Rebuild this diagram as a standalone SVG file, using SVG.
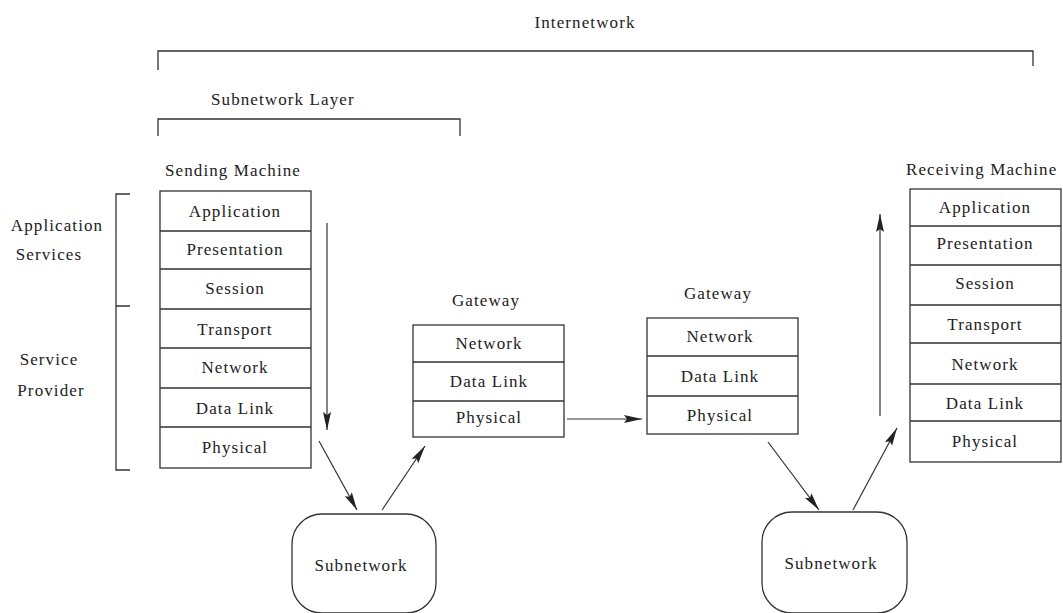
<svg xmlns="http://www.w3.org/2000/svg" width="1063" height="613" viewBox="0 0 1063 613">
<style>
text{font-family:"Liberation Serif","DejaVu Serif","Noto Serif",serif;font-size:17px;fill:#222;letter-spacing:1.1px}
.c{text-anchor:middle}
.b{fill:#fff;stroke:#333;stroke-width:1.3}
.l{fill:none;stroke:#333;stroke-width:1.3}
.a{fill:none;stroke:#333;stroke-width:1.2}
</style>
<defs>
<marker id="ah" viewBox="0 0 18 10" refX="18" refY="5" markerWidth="18" markerHeight="10" markerUnits="userSpaceOnUse" orient="auto">
<path d="M0,1 L18,5 L0,9 L3,5 z" fill="#222"/>
</marker>
</defs>
<rect width="1063" height="613" fill="#fff"/>

<g id="internetwork">
<text class="c" x="585" y="28" font-family="Liberation Serif, DejaVu Serif, serif">Internetwork</text>
<path class="l" d="M158,70 V51 H1033 V66"/>
</g>
<g id="subnetwork-layer">
<text x="211" y="105" font-family="Liberation Serif, DejaVu Serif, serif">Subnetwork Layer</text>
<path class="l" d="M158,136 V119 H460 V136"/>
</g>

<g id="side-labels" font-family="Liberation Serif, DejaVu Serif, serif">
<path class="l" d="M130,194 H116 V470 H130 M116,306 H130"/>
<text class="c" x="57" y="231">Application</text>
<text class="c" x="49" y="260">Services</text>
<text class="c" x="49" y="365">Service</text>
<text class="c" x="51" y="396">Provider</text>
</g>

<g id="sending" font-family="Liberation Serif, DejaVu Serif, serif">
<text x="165" y="176">Sending Machine</text>
<rect class="b" x="160" y="191" width="151" height="277"/>
<path class="l" d="M160,231 H311 M160,269 H311 M160,309 H311 M160,348 H311 M160,388 H311 M160,427 H311"/>
<text class="c" x="235" y="217">Application</text>
<text class="c" x="235" y="255">Presentation</text>
<text class="c" x="235" y="294">Session</text>
<text class="c" x="235" y="335">Transport</text>
<text class="c" x="235" y="373">Network</text>
<text class="c" x="235" y="414">Data Link</text>
<text class="c" x="235" y="453">Physical</text>
</g>

<g id="gateway1" font-family="Liberation Serif, DejaVu Serif, serif">
<text class="c" x="486" y="306">Gateway</text>
<rect class="b" x="413" y="325" width="151" height="112"/>
<path class="l" d="M413,362 H564 M413,401 H564"/>
<text class="c" x="489" y="349">Network</text>
<text class="c" x="489" y="387">Data Link</text>
<text class="c" x="489" y="423">Physical</text>
</g>

<g id="gateway2" font-family="Liberation Serif, DejaVu Serif, serif">
<text class="c" x="718" y="299">Gateway</text>
<rect class="b" x="647" y="318" width="151" height="116"/>
<path class="l" d="M647,356 H798 M647,396 H798"/>
<text class="c" x="720" y="342">Network</text>
<text class="c" x="720" y="382">Data Link</text>
<text class="c" x="720" y="421">Physical</text>
</g>

<g id="receiving" font-family="Liberation Serif, DejaVu Serif, serif">
<text x="906" y="175">Receiving Machine</text>
<rect class="b" x="910" y="189" width="151" height="273"/>
<path class="l" d="M910,226 H1061 M910,265 H1061 M910,305 H1061 M910,343 H1061 M910,384 H1061 M910,421 H1061"/>
<text class="c" x="985" y="213">Application</text>
<text class="c" x="985" y="249">Presentation</text>
<text class="c" x="985" y="289">Session</text>
<text class="c" x="985" y="330">Transport</text>
<text class="c" x="985" y="370">Network</text>
<text class="c" x="985" y="409">Data Link</text>
<text class="c" x="985" y="447">Physical</text>
</g>

<g id="subnet1" font-family="Liberation Serif, DejaVu Serif, serif">
<rect class="b" x="292" y="514" width="144" height="99" rx="30" ry="30"/>
<text class="c" x="361" y="571">Subnetwork</text>
</g>
<g id="subnet2" font-family="Liberation Serif, DejaVu Serif, serif">
<rect class="b" x="762" y="512" width="145" height="101" rx="30" ry="30"/>
<text class="c" x="831" y="569">Subnetwork</text>
</g>

<g id="connectors">
<line class="a" x1="327" y1="223" x2="327" y2="430" marker-end="url(#ah)"/>
<line class="a" x1="319" y1="441" x2="357" y2="510" marker-end="url(#ah)"/>
<line class="a" x1="382" y1="510" x2="425" y2="446" marker-end="url(#ah)"/>
<line class="a" x1="567" y1="419" x2="642" y2="419" marker-end="url(#ah)"/>
<line class="a" x1="768" y1="442" x2="819" y2="510" marker-end="url(#ah)"/>
<line class="a" x1="853" y1="510" x2="897" y2="428" marker-end="url(#ah)"/>
<line class="a" x1="880" y1="416" x2="880" y2="214" marker-end="url(#ah)"/>
</g>
</svg>
